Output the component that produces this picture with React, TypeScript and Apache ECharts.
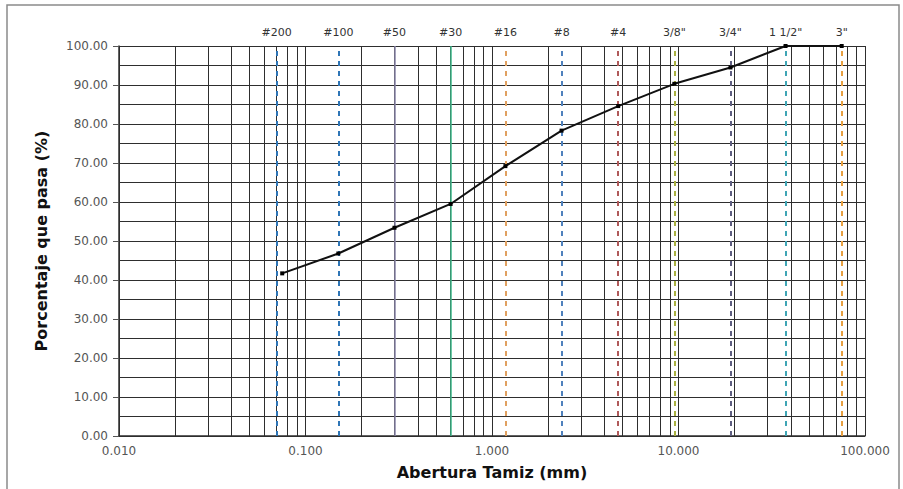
import React, { useEffect, useRef } from "react";
import * as echarts from "echarts";

// Sieve openings (mm) and percent passing
const sieveNames = ["#200", "#100", "#50", "#30", "#16", "#8", "#4", '3/8"', '3/4"', '1 1/2"', '3"'];
const sieveSizes = [0.075, 0.15, 0.3, 0.6, 1.18, 2.36, 4.75, 9.5, 19, 37.5, 75];
const percentPassing = [41.7, 46.8, 53.4, 59.5, 69.2, 78.3, 84.6, 90.3, 94.5, 100, 100];
const sieveColors = ["#2e75b6", "#2e75b6", "#8a86a8", "#3cb98a", "#e0a060", "#4f81bd", "#b05a5a", "#a8b040", "#5e5e80", "#3fa5b5", "#e8a040"];
const sieveDashed = [true, true, false, false, true, true, true, true, true, true, true];

// Minor log grid lines (2..9 of each decade)
const decades = [0.01, 0.1, 1, 10];
const minorMultipliers = [2, 3, 4, 5, 6, 7, 8, 9];

export default function App() {
  const ref = useRef<HTMLDivElement>(null);
  useEffect(() => {
    document.body.style.margin = "0";
    const chart = echarts.init(ref.current!, null, { renderer: "svg" });
    const gridColor = "#2e2e2e";
    const minorLines: any[] = [];
    decades.forEach((d) =>
      minorMultipliers.forEach((m) => minorLines.push({ xAxis: parseFloat((d * m).toPrecision(6)) }))
    );
    const data = sieveSizes.map((s, i) => [s, percentPassing[i]]);
    const font = "DejaVu Sans, Liberation Sans, Arial, sans-serif";
    chart.setOption({
      animation: false,
      backgroundColor: "#ffffff",
      textStyle: { fontFamily: font },
      grid: { left: 119, right: 38, top: 46, bottom: 53 },
      graphic: [
        {
          type: "rect",
          shape: { x: 7, y: 5, width: 892, height: 500 },
          style: { fill: "none", stroke: "#8a8a8a", lineWidth: 1.5 },
          silent: true,
        },
      ],
      xAxis: {
        type: "log",
        logBase: 10,
        min: 0.01,
        max: 100,
        name: "Abertura Tamiz (mm)",
        nameLocation: "middle",
        nameGap: 28,
        nameTextStyle: { fontSize: 16, fontWeight: "bold", color: "#111", fontFamily: font },
        axisLine: { show: true, lineStyle: { color: gridColor, width: 1.5 } },
        axisTick: { show: false },
        axisLabel: {
          color: "#555",
          fontSize: 12,
          margin: 9,
          formatter: (v: number) => Number(v).toFixed(3),
        },
        splitLine: { show: true, lineStyle: { color: gridColor, width: 1 } },
        minorTick: { show: false },
      },
      yAxis: {
        type: "value",
        min: 0,
        max: 100,
        interval: 10,
        name: "Porcentaje que pasa (%)",
        nameLocation: "middle",
        nameGap: 70,
        nameTextStyle: { fontSize: 16, fontWeight: "bold", color: "#111", fontFamily: font },
        axisLine: { show: true, lineStyle: { color: gridColor, width: 1.5 } },
        axisTick: { show: true, length: 6, lineStyle: { color: "#555" } },
        axisLabel: {
          color: "#555",
          fontSize: 12,
          margin: 11,
          formatter: (v: number) => v.toFixed(2),
        },
        splitLine: { show: true, lineStyle: { color: gridColor, width: 1 } },
        minorTick: { show: false, splitNumber: 2 },
        minorSplitLine: { show: true, lineStyle: { color: gridColor, width: 1 } },
      },
      series: [
        {
          type: "line",
          data: [],
          silent: true,
          markLine: {
            silent: true,
            symbol: "none",
            label: { show: false },
            lineStyle: { color: gridColor, width: 1, type: "solid" },
            data: minorLines.concat([{ xAxis: 100 }]),
          },
        },
        {
          type: "line",
          data: [],
          silent: true,
          markLine: {
            silent: true,
            symbol: "none",
            data: sieveSizes.map((s, i) => ({
              xAxis: s,
              lineStyle: {
                color: sieveColors[i],
                width: sieveDashed[i] ? 2 : 1.5,
                type: sieveDashed[i] ? [5, 5] : "solid",
              },
              label: {
                show: true,
                position: "end",
                formatter: sieveNames[i],
                color: "#333",
                fontSize: 11,
                distance: 8,
              },
            })),
          },
        },
        {
          type: "line",
          data,
          z: 5,
          symbol: "rect",
          symbolSize: 4,
          showSymbol: true,
          itemStyle: { color: "#000" },
          lineStyle: { color: "#111", width: 2 },
        },
      ],
    });
    return () => chart.dispose();
  }, []);
  return <div ref={ref} style={{ width: 903, height: 489 }} />;
}
